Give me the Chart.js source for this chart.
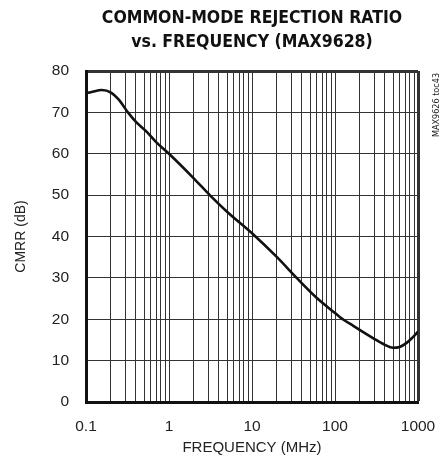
<!DOCTYPE html>
<html>
<head>
<meta charset="utf-8">
<script src="https://cdn.jsdelivr.net/npm/chart.js@4/dist/chart.umd.min.js"></script>
<style>
  html, body { margin: 0; padding: 0; background: #fff; }
  #wrap { width: 447px; height: 463px; }
</style>
</head>
<body>
<div id="wrap"><canvas id="cmrr" width="447" height="463"></canvas></div>
<script>
// CMRR vs frequency
const freqMHz = [0.1, 0.12, 0.155, 0.2, 0.25, 0.32, 0.4, 0.54, 0.7, 1, 2, 3.1, 5, 10, 20, 34.5, 60, 100, 115, 166, 290, 400, 500, 600, 730, 850, 1000];
const cmrrDb  = [74.6, 75.0, 75.4, 74.8, 73.0, 70.0, 67.7, 65.3, 62.8, 60.0, 54.0, 50.0, 46.0, 40.8, 35.0, 30.0, 25.2, 21.5, 20.5, 18.4, 15.4, 13.8, 13.1, 13.3, 14.3, 15.5, 17.0];

const xDecades = [0.1, 1, 10, 100, 1000];
const yTicks = [0, 10, 20, 30, 40, 50, 60, 70, 80];
const titleLines = ['COMMON-MODE REJECTION RATIO', 'vs. FREQUENCY (MAX9628)'];

const TITLE_FONT = "'DejaVu Sans Condensed', 'Liberation Sans', sans-serif";
const FONT = "'Liberation Sans', Arial, sans-serif";

// all 1..9 lines per decade
const xGridVals = [];
xDecades.forEach((d, i) => {
    if (i === xDecades.length - 1) { xGridVals.push(d); return; }
    for (let m = 1; m <= 9; m++) xGridVals.push(+(d * m).toPrecision(3));
});

// title centred over the plot + the small rotated figure tag
const heading = {
    id: 'heading',
    afterDraw(chart) {
        const c = chart.ctx, a = chart.chartArea;
        const cx = (a.left + a.right) / 2;
        c.save();
        c.fillStyle = '#111';
        c.font = "bold 17.5px " + TITLE_FONT;
        c.textAlign = 'center';
        c.textBaseline = 'middle';
        c.fillText(titleLines[0], cx, 18.5);
        c.fillText(titleLines[1], cx, 42);
        c.restore();

        c.save();
        c.translate(437, 105);
        c.rotate(-Math.PI / 2);
        c.fillStyle = '#222';
        c.font = "9px " + TITLE_FONT;
        c.textAlign = 'center';
        c.textBaseline = 'middle';
        c.fillText('MAX9626 toc43', 0, 0);
        c.restore();
    }
};

new Chart(document.getElementById('cmrr'), {
    type: 'line',
    data: {
        datasets: [{
            data: freqMHz.map((f, i) => ({ x: f, y: cmrrDb[i] })),
            borderColor: '#111',
            borderWidth: 2.6,
            pointRadius: 0,
            cubicInterpolationMode: 'monotone',
            fill: false
        }]
    },
    options: {
        responsive: false,
        animation: false,
        layout: { padding: { left: 0, right: 29, top: 71, bottom: 0 } },
        plugins: {
            legend: { display: false },
            tooltip: { enabled: false },
            title: { display: false }
        },
        scales: {
            x: {
                type: 'logarithmic',
                min: 0.1,
                max: 1000,
                afterBuildTicks: s => { s.ticks = xGridVals.map(v => ({ value: v })); },
                afterFit: s => {
                    s.height = 61;
                    // labels overhang into the margins, don't let them shrink the plot
                    s.paddingLeft = 0;
                    s.paddingRight = 0;
                },
                ticks: {
                    autoSkip: false,
                    maxRotation: 0,
                    color: '#222',
                    padding: 15,
                    font: { family: FONT, size: 15.5 },
                    callback: v => xDecades.includes(v) ? String(v) : ''
                },
                grid: {
                    drawTicks: false,
                    color: '#333',
                    lineWidth: c => (c.tick && c.tick.value === 1000) ? 3 : 1
                },
                border: { display: true, color: '#111', width: 3 },
                title: {
                    display: true,
                    text: 'FREQUENCY (MHz)',
                    color: '#222',
                    font: { family: FONT, size: 15 },
                    padding: { top: 2, bottom: 6 }
                }
            },
            y: {
                min: 0,
                max: 80,
                afterBuildTicks: s => { s.ticks = yTicks.map(v => ({ value: v })); },
                afterFit: s => { s.width = 86; },
                ticks: {
                    color: '#222',
                    padding: 17,
                    font: { family: FONT, size: 15.5 }
                },
                grid: {
                    drawTicks: false,
                    color: '#333',
                    lineWidth: c => (c.tick && c.tick.value === 80) ? 3 : 1
                },
                border: { display: true, color: '#111', width: 3 },
                title: {
                    display: true,
                    text: 'CMRR (dB)',
                    color: '#222',
                    font: { family: FONT, size: 14 },
                    padding: { top: 13, bottom: 4 }
                }
            }
        }
    },
    plugins: [heading]
});
</script>
</body>
</html>
